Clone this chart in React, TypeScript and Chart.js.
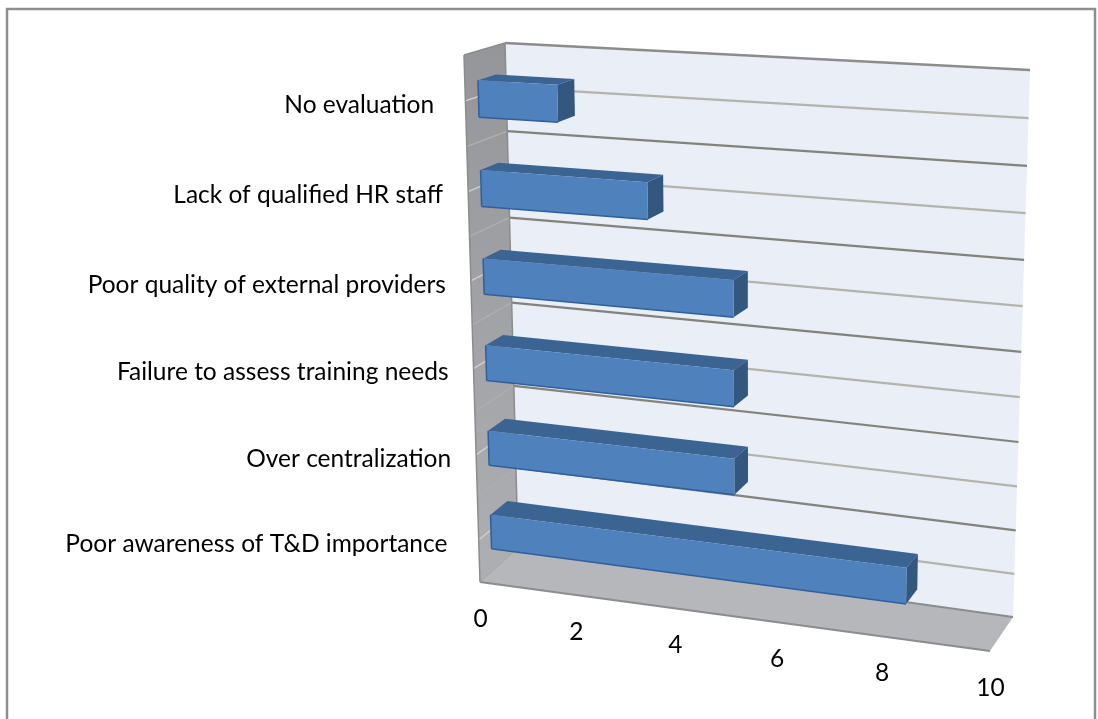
import React, { useEffect, useRef } from "react";
import { Chart, registerables } from "chart.js";

Chart.register(...registerables);

// Categories run top to bottom; two of them carry a trailing space in their label.
const categories = [
  "No evaluation ",
  "Lack of qualified HR staff",
  "Poor quality of external providers",
  "Failure to assess training needs",
  "Over centralization",
  "Poor awareness of T&D importance ",
];
const seriesValues = [1.6, 3.35, 5, 5, 5, 8.3];
const axisMin = 0;
const axisMax = 10;
const axisStep = 2;

type Pt = [number, number];

// Builds a projective map from the unit square to a quadrilateral
// given as (0,0), (1,0), (1,1), (0,1).
function quadMap(p0: Pt, p1: Pt, p2: Pt, p3: Pt) {
  const dx1 = p1[0] - p2[0], dx2 = p3[0] - p2[0], sx = p0[0] - p1[0] + p2[0] - p3[0];
  const dy1 = p1[1] - p2[1], dy2 = p3[1] - p2[1], sy = p0[1] - p1[1] + p2[1] - p3[1];
  const den = dx1 * dy2 - dx2 * dy1;
  const g = (sx * dy2 - dx2 * sy) / den;
  const h = (dx1 * sy - sx * dy1) / den;
  const a = p1[0] - p0[0] + g * p1[0], b = p3[0] - p0[0] + h * p3[0], c = p0[0];
  const d = p1[1] - p0[1] + g * p1[1], e = p3[1] - p0[1] + h * p3[1], f = p0[1];
  return (u: number, v: number): Pt => {
    const w = g * u + h * v + 1;
    return [(a * u + b * v + c) / w, (d * u + e * v + f) / w];
  };
}

// Front and back planes of the perspective box that holds the bars.
const frontPlane = quadMap([480, 582], [990, 651], [1000, 84], [464, 55]);
const backPlane = quadMap([518, 548], [1013, 617], [1030, 70], [505, 43]);

// u: along the value axis, v: up the category axis, depth: 0 front, 1 back (all 0..1).
function project(u: number, v: number, depth: number): Pt {
  const f = frontPlane(u, v);
  const b = backPlane(u, v);
  return [f[0] + (b[0] - f[0]) * depth, f[1] + (b[1] - f[1]) * depth];
}

function fillPoly(ctx: CanvasRenderingContext2D, pts: Pt[], fill: string | CanvasGradient) {
  ctx.beginPath();
  pts.forEach((p, i) => (i ? ctx.lineTo(p[0], p[1]) : ctx.moveTo(p[0], p[1])));
  ctx.closePath();
  ctx.fillStyle = fill;
  ctx.fill();
}

function line(ctx: CanvasRenderingContext2D, a: Pt, b: Pt, color: string, width: number) {
  ctx.beginPath();
  ctx.moveTo(a[0], a[1]);
  ctx.lineTo(b[0], b[1]);
  ctx.strokeStyle = color;
  ctx.lineWidth = width;
  ctx.stroke();
}

const BAR_FRONT_DEPTH = 0.32;
const BAR_BACK_DEPTH = 0.76;
const BAR_V_DROP = 0.004;
const LABEL_FONT = '24.5px Lato, "Open Sans", sans-serif';

const perspectivePlugin = {
  id: "perspectiveBox",
  afterDatasetsDraw(chart: any) {
    const { ctx, chartArea: area, scales } = chart;
    const toU = (px: number) => (px - area.left) / (area.right - area.left);
    const toV = (py: number) => (area.bottom - py) / (area.bottom - area.top);
    ctx.save();

    // Outer frame, open past the bottom of the canvas.
    ctx.strokeStyle = "#8e8e8e";
    ctx.lineWidth = 2.5;
    ctx.strokeRect(7, 9, 1088, 800);

    // Back wall, floor and side wall.
    fillPoly(ctx, [project(0, 0, 1), project(1, 0, 1), project(1, 1, 1), project(0, 1, 1)], "#e9eef7");
    fillPoly(ctx, [project(0, 0, 0), project(1, 0, 0), project(1, 0, 1), project(0, 0, 1)], "#b5b7ba");
    const wallShade = ctx.createLinearGradient(0, 50, 0, 580);
    wallShade.addColorStop(0, "#94969a");
    wallShade.addColorStop(1, "#adafb2");
    fillPoly(ctx, [project(0, 0, 0), project(0, 0, 1), project(0, 1, 1), project(0, 1, 0)], wallShade);

    // Gridlines: category boundaries are dark, category centres are light.
    const rows = categories.length;
    for (let i = 1; i < rows * 2; i++) {
      const v = i / (rows * 2);
      const boundary = i % 2 === 0;
      line(ctx, project(0, v, 1), project(1, v, 1), boundary ? "#83837d" : "#b4b4ae", 2.2);
      line(ctx, project(0, v, 0), project(0, v, 1), boundary ? "#aeaeae" : "#cfcfcf", 1.5);
    }

    // Box edges.
    const edge = "#8c8c8c";
    line(ctx, project(0, 1, 1), project(1, 1, 1), edge, 2.5);
    line(ctx, project(0, 1, 0), project(0, 1, 1), edge, 1.5);
    line(ctx, project(0, 1, 0), project(0, 0, 0), edge, 1.5);
    line(ctx, project(0, 1, 1), project(0, 0, 1), edge, 1.5);
    line(ctx, project(0, 0, 0), project(1, 0, 0), edge, 2);
    line(ctx, project(0, 0, 1), project(1, 0, 1), edge, 2);
    line(ctx, project(0, 0, 0), project(0, 0, 1), "#a0a0a0", 1);

    // Bars, taken from the bar elements the scales have laid out; top row first.
    const meta = chart.getDatasetMeta(0);
    meta.data.forEach((bar: any) => {
      const { x, y, base, height } = bar.getProps(["x", "y", "base", "height"], true);
      const u0 = toU(base), u1 = toU(x);
      const vTop = toV(y - height / 2) - BAR_V_DROP, vBot = toV(y + height / 2) - BAR_V_DROP;
      const fTL = project(u0, vTop, BAR_FRONT_DEPTH), fTR = project(u1, vTop, BAR_FRONT_DEPTH);
      const fBL = project(u0, vBot, BAR_FRONT_DEPTH), fBR = project(u1, vBot, BAR_FRONT_DEPTH);
      const bTL = project(u0, vTop, BAR_BACK_DEPTH), bTR = project(u1, vTop, BAR_BACK_DEPTH);
      const bBR = project(u1, vBot, BAR_BACK_DEPTH);
      fillPoly(ctx, [fTL, fTR, bTR, bTL], "#3b6493");
      fillPoly(ctx, [fTR, fBR, bBR, bTR], "#33577f");
      fillPoly(ctx, [fTL, fTR, fBR, fBL], "#4f81bd");
      line(ctx, fTL, fBL, "#2f5f9e", 1.5);
      line(ctx, fBL, fBR, "#2f5f9e", 1.5);
    });

    ctx.fillStyle = "#000";
    ctx.font = LABEL_FONT;

    // Category labels sit just off the front edge of the side wall.
    const yScale = scales.y;
    ctx.textAlign = "right";
    ctx.textBaseline = "middle";
    categories.forEach((name, i) => {
      const p = project(0, toV(yScale.getPixelForValue(i)), 0);
      ctx.fillText(name, p[0] - 25, p[1] + 4);
    });

    // Value labels follow the front edge of the floor.
    const xScale = scales.x;
    ctx.textAlign = "center";
    xScale.ticks.forEach((t: any) => {
      const p = project(toU(xScale.getPixelForValue(t.value)), 0, 0);
      ctx.fillText(String(t.value), p[0] + 0.5, p[1] + 37);
    });
    ctx.restore();
  },
};

export default function App() {
  const ref = useRef<HTMLCanvasElement>(null);
  useEffect(() => {
    const chart = new Chart(ref.current!, {
      type: "bar",
      data: {
        labels: categories,
        datasets: [
          {
            data: seriesValues,
            backgroundColor: "rgba(0,0,0,0)",
            borderWidth: 0,
            barPercentage: 0.41,
            categoryPercentage: 1,
          },
        ],
      },
      options: {
        indexAxis: "y",
        animation: false,
        responsive: false,
        plugins: { legend: { display: false }, tooltip: { enabled: false } },
        scales: {
          x: { display: false, min: axisMin, max: axisMax, ticks: { stepSize: axisStep } },
          y: { display: false },
        },
      },
      plugins: [perspectivePlugin],
    } as any);
    return () => chart.destroy();
  }, []);
  return (
    <div style={{ position: "fixed", left: 0, top: 0, width: 1098, height: 719, background: "#fff" }}>
      <canvas ref={ref} width={1098} height={719} style={{ display: "block" }} />
    </div>
  );
}
